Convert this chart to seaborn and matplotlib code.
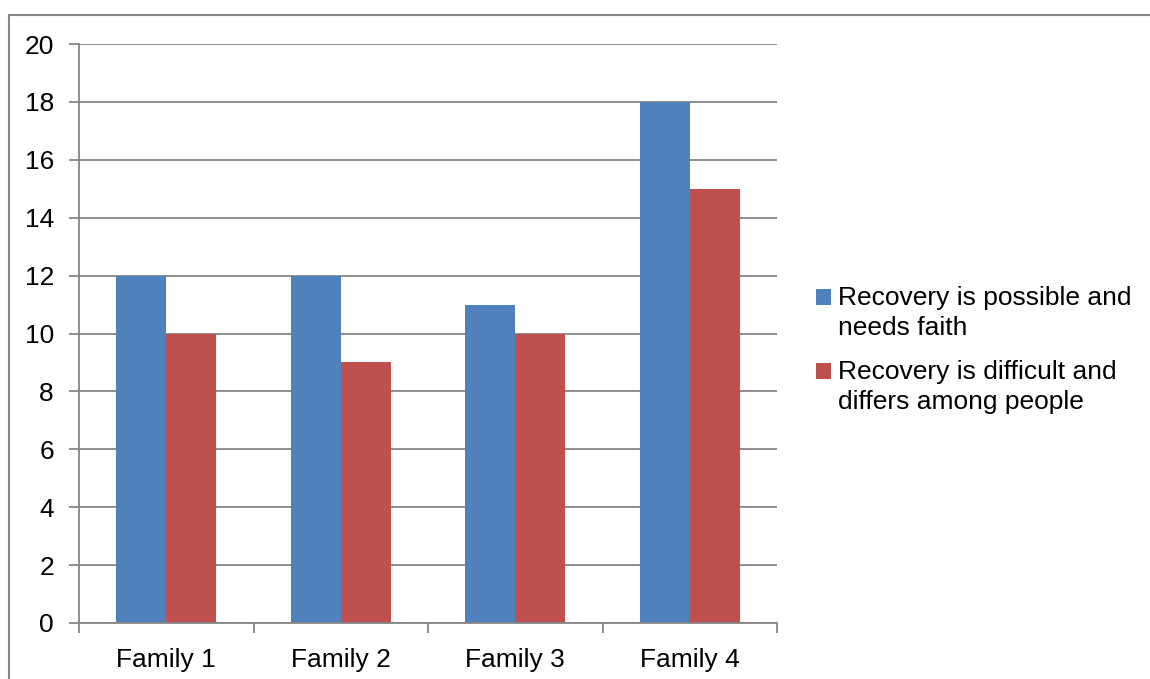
import matplotlib
matplotlib.use("Agg")
import matplotlib.pyplot as plt
import seaborn as sns
import pandas as pd
from matplotlib.lines import Line2D
from matplotlib.patches import Rectangle
from matplotlib.legend_handler import HandlerPatch

families = ["Family 1", "Family 2", "Family 3", "Family 4"]
series_names = ["Recovery is possible and\nneeds faith",
                "Recovery is difficult and\ndiffers among people"]
possible_faith = [12, 12, 11, 18]
difficult_differs = [10, 9, 10, 15]
y_ticks = [0, 2, 4, 6, 8, 10, 12, 14, 16, 18, 20]

df = pd.DataFrame({
    "family": families * 2,
    "series": [series_names[0]] * 4 + [series_names[1]] * 4,
    "value": possible_faith + difficult_differs,
})

sns.set_theme(style="white")
plt.rcParams["font.family"] = ["Liberation Sans", "DejaVu Sans"]
plt.rcParams["text.color"] = "black"

W, H = 1150, 679
FS = 19
fig = plt.figure(figsize=(W / 100, H / 100), dpi=100)
ax = fig.add_axes([79 / W, (H - 623) / H, (777 - 79) / W, (623 - 44) / H])

gray = "#868686"
sns.barplot(data=df, x="family", y="value", hue="series",
            palette=["#4F81BD", "#C0504D"], width=0.573,
            saturation=1, linewidth=0, ax=ax, legend=True, zorder=3)

ax.set_ylim(0, 20)
ax.set_xlim(-0.5, 3.5)
ax.set_yticks(y_ticks)
ax.set_xlabel("")
ax.set_ylabel("")
ax.yaxis.grid(True, color=gray, linewidth=1.3)
ax.set_axisbelow(True)

for side in ["top", "right"]:
    ax.spines[side].set_visible(False)
for side in ["left", "bottom"]:
    ax.spines[side].set_color(gray)
    ax.spines[side].set_linewidth(1.3)
    ax.spines[side].set_zorder(4)

ax.tick_params(axis="y", which="major", left=True, length=7, width=1.3,
               color=gray, labelsize=FS, labelcolor="black", pad=11)
ax.tick_params(axis="x", which="major", bottom=False, labelsize=FS,
               labelcolor="black", pad=12)
ax.set_xticks([-0.5, 0.5, 1.5, 2.5, 3.5], minor=True)
ax.tick_params(axis="x", which="minor", bottom=True, length=7, width=1.3,
               color=gray)


def top_square(legend, orig_handle, xdescent, ydescent, width, height,
               fontsize):
    # square legend key aligned with the first line of a two-line label
    shift = 0.6 * fontsize
    return Rectangle((-xdescent, -ydescent + shift), width, height)


handles, labels = ax.get_legend_handles_labels()
ax.get_legend().remove()
leg = fig.legend(handles, labels, loc="center left",
                 bbox_to_anchor=(816 / W, 1 - 350 / H), frameon=False,
                 fontsize=FS, handlelength=0.55, handleheight=0.55,
                 handletextpad=0.3, labelspacing=0.75, borderaxespad=0,
                 borderpad=0, labelcolor="black",
                 handler_map={h: HandlerPatch(patch_func=top_square)
                              for h in handles})
for t in leg.get_texts():
    t.set_linespacing(1.32)

# outer chart frame
fig.add_artist(Line2D([8.5 / W, 8.5 / W], [0, 1 - 14.5 / H],
                      transform=fig.transFigure, color=gray, linewidth=1.5))
fig.add_artist(Line2D([8.5 / W, 1], [1 - 14.5 / H, 1 - 14.5 / H],
                      transform=fig.transFigure, color=gray, linewidth=1.5))

fig.savefig("out.png", dpi=100)
